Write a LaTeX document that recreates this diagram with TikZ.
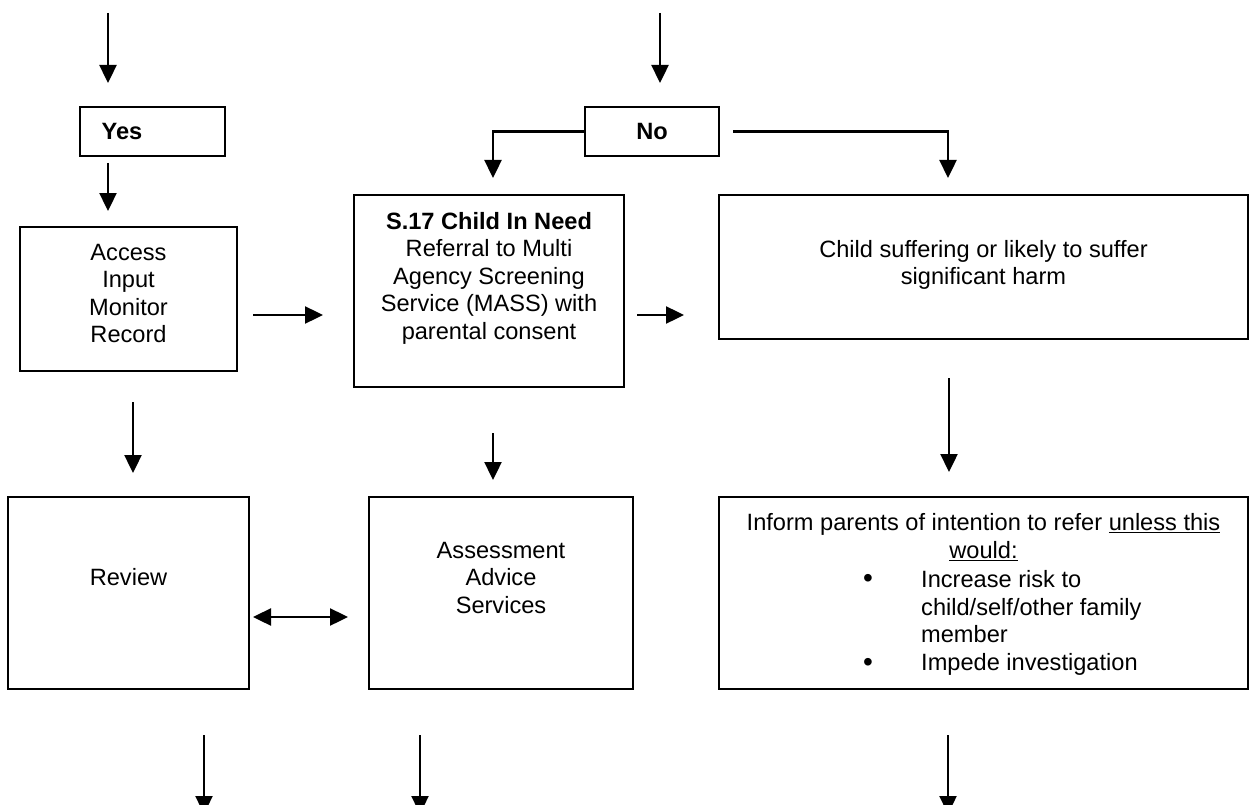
\documentclass[tikz,border=0pt]{standalone}
\usepackage{fontspec}
\setmainfont{Liberation Sans}
\usetikzlibrary{arrows.meta,calc}
\newcommand\fstrut{\rule{0pt}{18pt}}
\newcommand\bul{\makebox[58pt][l]{\fontsize{28}{27.8}\selectfont\raisebox{-0.5pt}{•}}}
\begin{document}
\begin{tikzpicture}[x=1pt,y=-1pt,
  box/.style={draw,line width=2.2pt,rectangle,inner sep=0pt},
  txt/.style={inner sep=0pt,align=center,font=\fontsize{23.6}{27.5}\selectfont},
  arr/.style={line width=2.4pt,-{Triangle[length=18pt,width=17pt]}},
  darr/.style={line width=2.4pt,{Triangle[length=18pt,width=17pt]}-{Triangle[length=18pt,width=17pt]}}]
\useasboundingbox[fill=white] (0,0) rectangle (1257,805);
% boxes
\node[box,minimum width=145pt,minimum height=49pt] (yes) at (152.5,131.5) {};
\node[box,minimum width=134pt,minimum height=49pt] (no) at (652,131.5) {};
\node[box,minimum width=217pt,minimum height=144pt] (access) at (128.5,299) {};
\node[box,minimum width=270pt,minimum height=192pt] (s17) at (489,291) {};
\node[box,minimum width=529pt,minimum height=144pt] (child) at (983.5,267) {};
\node[box,minimum width=241pt,minimum height=192pt] (review) at (128.5,593) {};
\node[box,minimum width=264pt,minimum height=192pt] (assess) at (501,593) {};
\node[box,minimum width=529pt,minimum height=192pt] (inform) at (983.5,593) {};
% texts
\node[txt,anchor=base] (yest) at (122,139.5) {\bfseries Yes};
\node[txt,anchor=base] (not) at (652,140) {\bfseries No};
\node[txt,anchor=north] (accesst) at (128.5,242) {\fstrut Access\\Input\\Monitor\\Record};
\node[txt,anchor=north] (s17t) at (489,211) {\fstrut\bfseries S.17 Child In Need\\Referral to Multi\\Agency Screening\\Service (MASS) with\\parental consent};
\node[txt,anchor=north] (childt) at (983.5,239) {\fstrut Child suffering or likely to suffer\\significant harm};
\node[txt,anchor=base] (reviewt) at (128.5,585) {Review};
\node[txt,anchor=north] (assesst) at (501,540) {\fstrut Assessment\\Advice\\Services};
\node[txt,anchor=north,font=\fontsize{23.6}{28}\selectfont] (informt) at (983.5,512)
  {\fstrut Inform parents of intention to refer \underline{unless this}\\\underline{would:}};
\node[txt,anchor=north west,align=left,font=\fontsize{23.6}{27.8}\selectfont] (bullets) at (863,569)
  {\fstrut\bul Increase risk to\\\hspace*{58pt}child/self/other family\\\hspace*{58pt}member\\\bul Impede investigation};
% coordinates for free arrow ends
\coordinate (t1s) at (108,13);   \coordinate (t1e) at (108,83);
\coordinate (t2s) at (660,13);   \coordinate (t2e) at (660,83);
\coordinate (y1s) at (108,163);  \coordinate (y1e) at (108,211);
\coordinate (nle) at (493,178);
\coordinate (nrs) at (733,131.5); \coordinate (nre) at (948,178);
\coordinate (a1s) at (253,315);  \coordinate (a1e) at (323,315);
\coordinate (a2s) at (637,315);  \coordinate (a2e) at (684,315);
\coordinate (d1s) at (133,402);  \coordinate (d1e) at (133,473);
\coordinate (d2s) at (493,433);  \coordinate (d2e) at (493,480);
\coordinate (d3s) at (949,378);  \coordinate (d3e) at (949,472);
\coordinate (hs) at (253,617);   \coordinate (he) at (348,617);
\coordinate (b1s) at (204,735);  \coordinate (b1e) at (204,814);
\coordinate (b2s) at (420,735);  \coordinate (b2e) at (420,814);
\coordinate (b3s) at (948,735);  \coordinate (b3e) at (948,814);
% connectors
\draw[arr] (t1s) -- (t1e);
\draw[arr] (t2s) -- (t2e);
\draw[arr] (y1s) -- (y1e);
\draw[arr] (no.west) -| (nle);
\draw[arr] (nrs) -| (nre);
\draw[arr] (a1s) -- (a1e);
\draw[arr] (a2s) -- (a2e);
\draw[arr] (d1s) -- (d1e);
\draw[arr] (d2s) -- (d2e);
\draw[arr] (d3s) -- (d3e);
\draw[darr] (hs) -- (he);
\draw[arr] (b1s) -- (b1e);
\draw[arr] (b2s) -- (b2e);
\draw[arr] (b3s) -- (b3e);
\end{tikzpicture}
\end{document}
